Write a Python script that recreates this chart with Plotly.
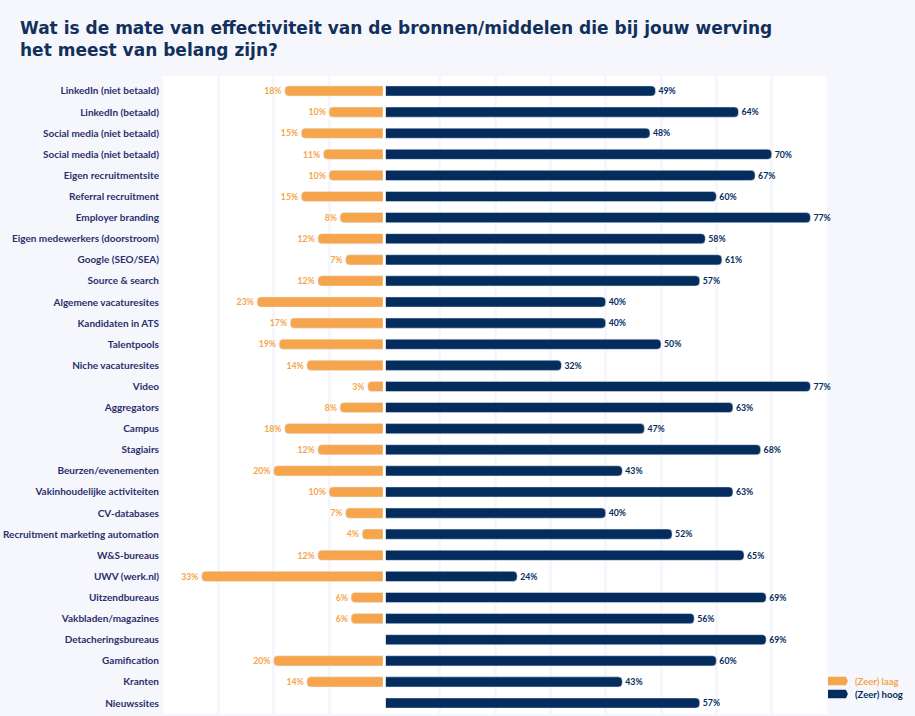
import plotly.graph_objects as go

categories = [
    "LinkedIn (niet betaald)", "LinkedIn (betaald)", "Social media (niet betaald)",
    "Social media (niet betaald)", "Eigen recruitmentsite", "Referral recruitment",
    "Employer branding", "Eigen medewerkers (doorstroom)", "Google (SEO/SEA)",
    "Source & search", "Algemene vacaturesites", "Kandidaten in ATS", "Talentpools",
    "Niche vacaturesites", "Video", "Aggregators", "Campus", "Stagiairs",
    "Beurzen/evenementen", "Vakinhoudelijke activiteiten", "CV-databases",
    "Recruitment marketing automation", "W&S-bureaus", "UWV (werk.nl)",
    "Uitzendbureaus", "Vakbladen/magazines", "Detacheringsbureaus", "Gamification",
    "Kranten", "Nieuwssites",
]
laag = [18, 10, 15, 11, 10, 15, 8, 12, 7, 12, 23, 17, 19, 14, 3, 8, 18, 12, 20, 10,
        7, 4, 12, 33, 6, 6, None, 20, 14, None]
hoog = [49, 64, 48, 70, 67, 60, 77, 58, 61, 57, 40, 40, 50, 32, 77, 63, 47, 68, 43, 63,
        40, 52, 65, 24, 69, 56, 69, 60, 43, 57]

ORANGE = "#f6a54c"
NAVY = "#042d5e"
LABEL = "#2b2f6b"
BG = "#f6f7fc"
FONT = "Lato"

rows = list(range(len(categories)))

fig = go.Figure()
fig.add_trace(go.Bar(
    y=rows, x=[-v if v is not None else None for v in laag], orientation="h",
    marker=dict(color=ORANGE, cornerradius=4),
    text=[f"{v}%" if v is not None else "" for v in laag], textposition="outside",
    textfont=dict(color=ORANGE, size=9.5, family=FONT, weight="bold"),
    cliponaxis=False, width=0.48, name="(Zeer) laag", showlegend=False,
))
fig.add_trace(go.Bar(
    y=rows, x=hoog, orientation="h",
    marker=dict(color=NAVY, cornerradius=4),
    text=[f"{v}%" for v in hoog], textposition="outside",
    textfont=dict(color=NAVY, size=9.5, family=FONT, weight="bold"),
    cliponaxis=False, width=0.48, name="(Zeer) hoog", showlegend=False,
))

fig.update_layout(
    width=915, height=716,
    margin=dict(l=163, r=88, t=76, b=2),
    paper_bgcolor=BG, plot_bgcolor="white",
    barmode="relative",
    xaxis=dict(range=[-40, 80], dtick=10, showgrid=True, gridcolor=BG, gridwidth=3,
               zeroline=False, showticklabels=False, fixedrange=True),
    yaxis=dict(range=[29.52, -0.71], tickvals=rows, ticktext=categories,
               showgrid=False, zeroline=False, ticks="", ticklabelstandoff=3,
               tickfont=dict(family=FONT, size=10, color=LABEL, weight="bold")),
)

fig.add_annotation(
    xref="paper", yref="paper", x=(18 - 163) / 664, y=1 + (76 - 16) / 638,
    xanchor="left", yanchor="top", align="left", showarrow=False,
    text="Wat is de mate van effectiviteit van de bronnen/middelen die bij jouw werving<br>het meest van belang zijn?",
    font=dict(family="DejaVu Sans", size=17, color="#12305c", weight="bold"),
)

fig.add_shape(type="line", xref="x", yref="paper", x0=0, x1=0, y0=0, y1=1,
              line=dict(color="white", width=3), layer="above")

# legend
for i, (name, col) in enumerate([("(Zeer) laag", ORANGE), ("(Zeer) hoog", NAVY)]):
    yc = 1 - ((681 + 13 * i) - 76) / 638
    fig.add_shape(type="path", xref="paper", yref="paper",
                  path=f"M 1.0015 {yc-0.0068} L 1.0285 {yc-0.0068} L 1.0315 {yc} L 1.0285 {yc+0.0068} L 1.0015 {yc+0.0068} Z",
                  fillcolor=col, line=dict(width=0))
    fig.add_annotation(xref="paper", yref="paper", x=(853 - 163) / 664, y=yc,
                       xanchor="left", yanchor="middle", text=name, showarrow=False,
                       font=dict(family=FONT, size=9.5, color=col, weight="bold"))

fig.write_html("out.html")
